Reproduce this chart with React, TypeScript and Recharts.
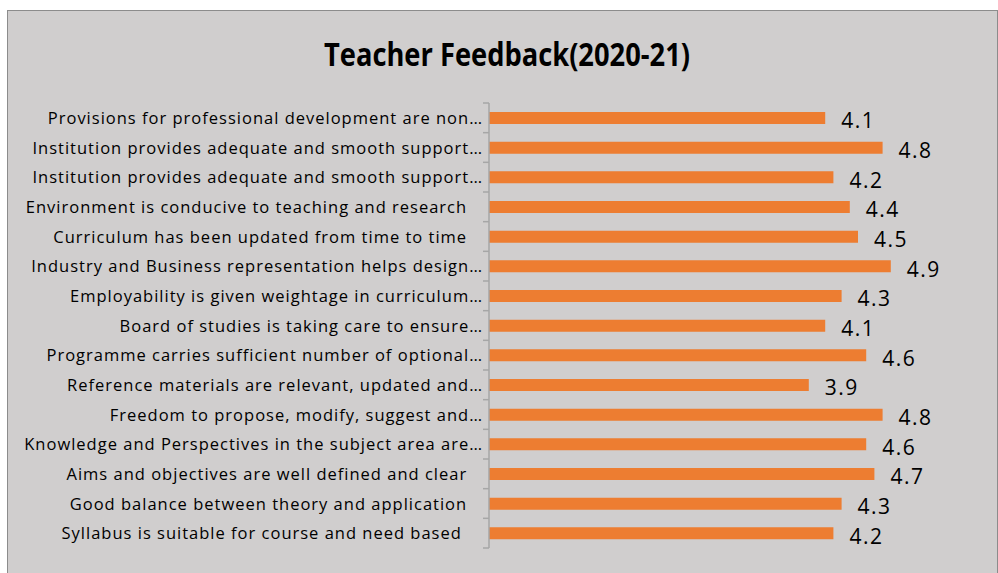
import React from "react"
import { BarChart, Bar, XAxis, YAxis, LabelList } from "recharts"

// top to bottom as shown in the chart (some originals end with blank spaces)
const questions = [
  "Provisions for professional development are non…",
  "Institution provides adequate and smooth support…",
  "Institution provides adequate and smooth support…",
  "Environment is conducive to teaching and research   ",
  "Curriculum has been updated from time to time   ",
  "Industry and Business representation helps design…",
  "Employability is given weightage in curriculum…",
  "Board of studies is taking care to ensure…",
  "Programme carries sufficient number of optional…",
  "Reference materials are relevant, updated and…",
  "Freedom to propose, modify, suggest and…",
  "Knowledge and Perspectives in the subject area are…",
  "Aims and objectives are well defined and clear   ",
  "Good balance between theory and application   ",
  "Syllabus is suitable for course and need based    ",
]

const scores = [4.1, 4.8, 4.2, 4.4, 4.5, 4.9, 4.3, 4.1, 4.6, 3.9, 4.8, 4.6, 4.7, 4.3, 4.2]

const data = questions.map((q, i) => ({ id: i, name: q, value: scores[i] }))

const FONT = "'Open Sans', sans-serif"
const CHART_W = 991
const CHART_H = 563
const MARGIN = { top: 92, right: 18, bottom: 26, left: 0 }
const band = (CHART_H - MARGIN.top - MARGIN.bottom) / questions.length
const AXIS_GRAY = "#a6a6a6"

const CategoryTick = (props: any) => {
  const { x, y, payload, index } = props
  const label = questions[payload.value].replace(/ +$/, (s) => "\u00a0".repeat(s.length))
  return (
    <g>
      <line x1={x} x2={x + 6} y1={y - band / 2} y2={y - band / 2} stroke={AXIS_GRAY} strokeWidth={1.5} />
      {index === questions.length - 1 && (
        <line x1={x} x2={x + 6} y1={y + band / 2} y2={y + band / 2} stroke={AXIS_GRAY} strokeWidth={1.5} />
      )}
      <text
        x={x}
        y={y}
        dy={6}
        textAnchor="end"
        fontSize={16.5}
        fill="#000"
        fontFamily={FONT}
        letterSpacing={1}
      >
        {label}
      </text>
    </g>
  )
}

export default function App() {
  return (
    <div
      style={{
        position: "absolute",
        left: 7,
        top: 10,
        width: CHART_W,
        height: CHART_H + 10,
        background: "#d0cece",
        border: "1px solid #8c8c8c",
        boxSizing: "border-box",
      }}
    >
      <svg
        width={CHART_W}
        height={80}
        style={{ position: "absolute", left: 0, top: 0 }}
      >
        <text
          x={316}
          y={55}
          textLength={366}
          lengthAdjust="spacingAndGlyphs"
          fontFamily={FONT}
          fontWeight={700}
          fontSize={32}
          fill="#000"
        >
          Teacher Feedback(2020-21)
        </text>
      </svg>
      <BarChart width={CHART_W} height={CHART_H} data={data} layout="vertical" margin={MARGIN}>
        <XAxis type="number" domain={[0, 6]} hide />
        <YAxis
          type="category"
          dataKey="id"
          width={481}
          tickLine={false}
          tickSize={6}
          tickMargin={0}
          axisLine={{ stroke: AXIS_GRAY, strokeWidth: 1.5 }}
          tick={<CategoryTick />}
          interval={0}
        />
        <Bar dataKey="value" fill="#ed7d31" barSize={12} isAnimationActive={false}>
          <LabelList
            dataKey="value"
            position="right"
            offset={16}
            fontSize={21}
            fill="#000"
            fontFamily={FONT}
            letterSpacing={1.5}
            dy={3}
          />
        </Bar>
      </BarChart>
    </div>
  )
}
